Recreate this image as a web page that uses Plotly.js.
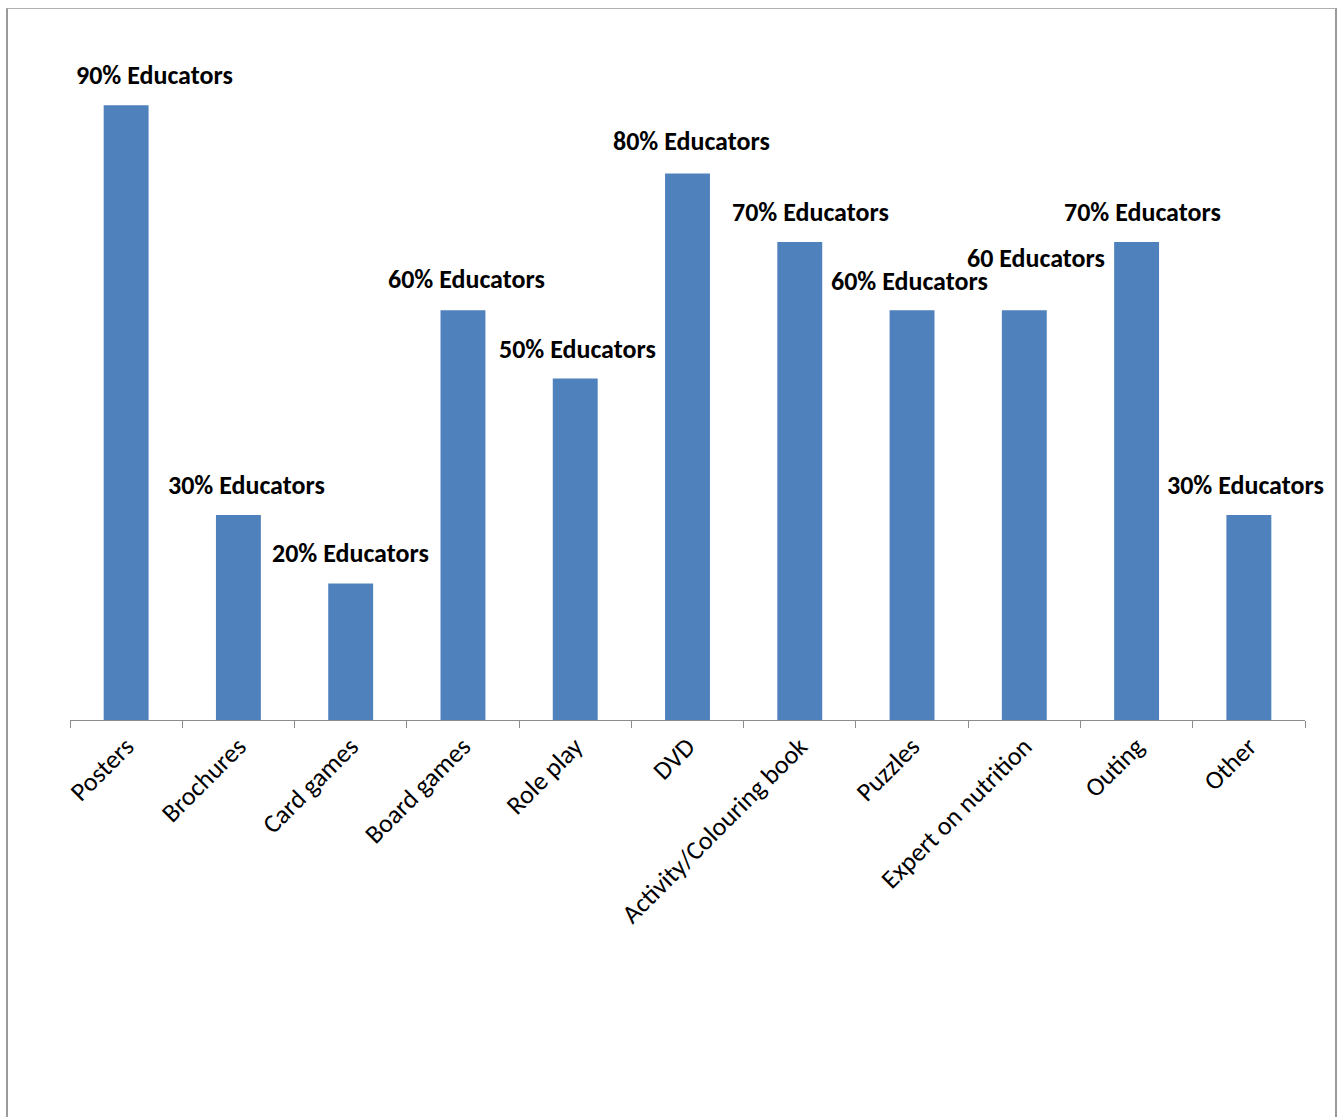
<!DOCTYPE html>
<html>
<head>
<meta charset="utf-8">
<script src="https://cdn.plot.ly/plotly-3.0.1.min.js"></script>
<style>
  html, body { margin: 0; padding: 0; background: #fff; }
  #wrap { position: relative; width: 1338px; height: 1117px; }
  #chart { width: 1338px; height: 1117px; }
  #frame {
    position: absolute; left: 6px; top: 8px; width: 1327px; height: 1120px;
    border-left: 2px solid #9a9a9a; border-top: 1px solid #b0b0b0; border-right: 2px solid #9a9a9a;
    pointer-events: none;
  }
</style>
</head>
<body>
<div id="wrap">
  <div id="chart"></div>
  <div id="frame"></div>
</div>
<script>
// Teaching resources used by educators (percentage of educators)
const categories = ["Posters", "Brochures", "Card games", "Board games", "Role play", "DVD",
                    "Activity/Colouring book", "Puzzles", "Expert on nutrition", "Outing", "Other"];
const percentEducators = [90, 30, 20, 60, 50, 80, 70, 60, 60, 70, 30];
const labelTexts = ["90% Educators", "30% Educators", "20% Educators", "60% Educators",
                    "50% Educators", "80% Educators", "70% Educators", "60% Educators",
                    "60 Educators", "70% Educators", "30% Educators"];

// Label placement nudges (pixels) relative to each bar top
const labelDx = [28, 8, 0, 4, 2, 4, 11, -3, 12, 6, -3];
const labelDy = [30, 30, 30, 31, 30, 33, 30, 29, 52, 30, 30];

const labelFont = "Carlito, Calibri, Lato, 'Liberation Sans', sans-serif";

const trace = {
  type: "bar",
  x: categories,
  y: percentEducators,
  marker: { color: "#4F81BD" },
  hoverinfo: "x+y"
};

const annotations = categories.map((c, i) => ({
  x: c,
  y: percentEducators[i],
  xref: "x",
  yref: "y",
  text: "<b>" + labelTexts[i] + "</b>",
  showarrow: false,
  xanchor: "center",
  yanchor: "middle",
  xshift: labelDx[i],
  yshift: labelDy[i],
  font: { family: labelFont, size: 26, color: "#000" }
}));

const layout = {
  width: 1338,
  height: 1117,
  margin: { l: 70, r: 33, t: 37, b: 397 },
  paper_bgcolor: "#fff",
  plot_bgcolor: "#fff",
  showlegend: false,
  bargap: 0.6,
  xaxis: {
    type: "category",
    range: [-0.5, categories.length - 0.5],
    tickangle: -45,
    tickfont: { family: labelFont, size: 26, color: "#000" },
    showline: true,
    linecolor: "#8c8c8c",
    linewidth: 1,
    ticks: "outside",
    ticklen: 7,
    tickcolor: "#8c8c8c",
    tickson: "boundaries",
    showgrid: false,
    zeroline: false,
    automargin: false
  },
  yaxis: {
    range: [0, 100],
    visible: false,
    showgrid: false,
    zeroline: false
  },
  annotations: annotations
};

Plotly.newPlot("chart", [trace], layout, { displayModeBar: false, staticPlot: true });
</script>
</body>
</html>
